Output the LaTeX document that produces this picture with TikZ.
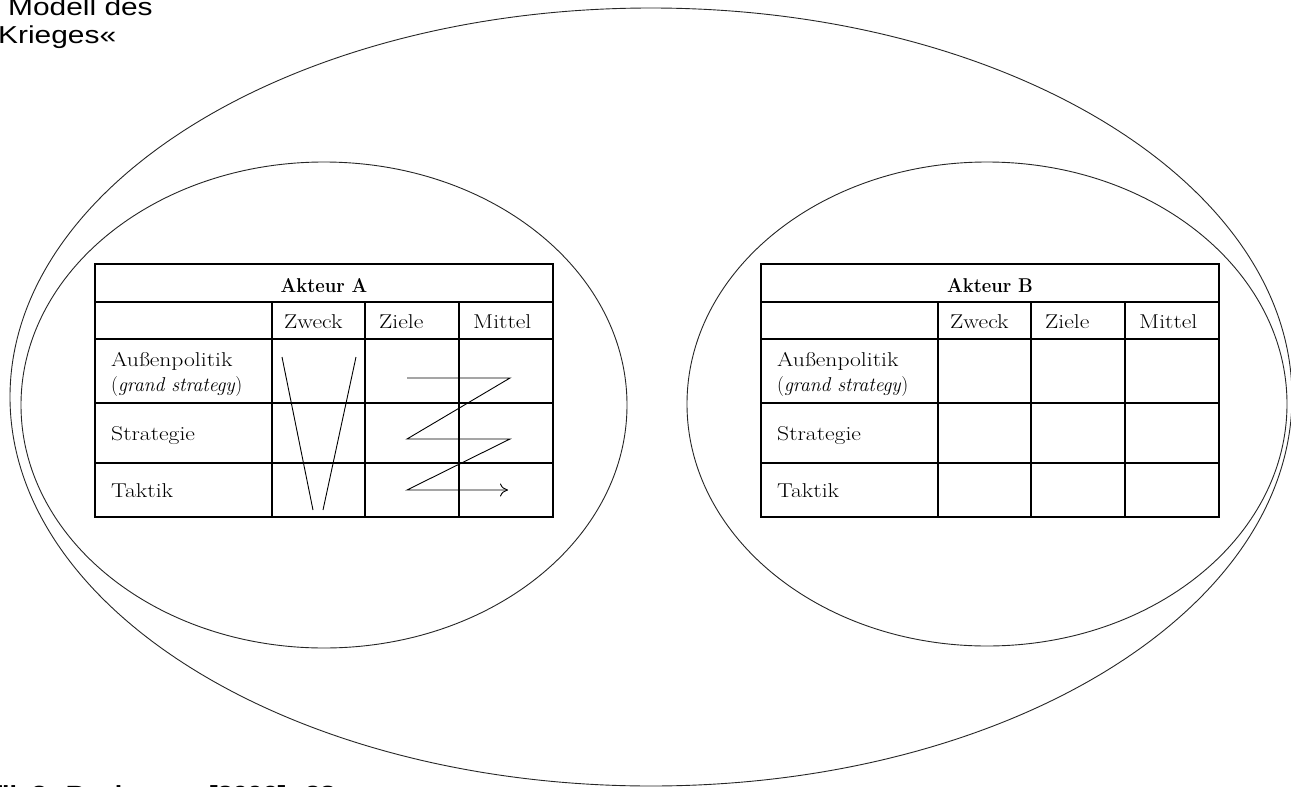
\documentclass[tikz,border=0pt]{standalone}
\usepackage{fontspec}
\usepackage{graphicx}
\newfontfamily\capsans{Liberation Sans}
\usetikzlibrary{arrows.meta}
\newcommand\sx[1]{\scalebox{1.18}[1]{#1}}
\newcommand\sxi[1]{\scalebox{0.98}[1]{#1}}
\newcommand\sxb[1]{\scalebox{0.92}[1]{#1}}
\newcommand\sy[1]{\scalebox{1.22}[1]{#1}}
\tikzset{
  tbl/.style={line width=1.2pt, draw=black},
  ring/.style={line width=0.9pt, draw=black!85},
  cell/.style={inner sep=0pt, anchor=base west, font=\fontsize{20}{25}\selectfont},
  hdr/.style={inner sep=0pt, anchor=base, font=\fontsize{20}{25}\selectfont\bfseries},
  flow/.style={line width=0.9pt, draw=black},
  captxt/.style={inner sep=0pt, anchor=base west, font=\capsans\fontsize{24.5}{28}\selectfont}
}
\newcommand\akteurtable[3]{%
\begin{scope}[xshift=#1]
  \draw[tbl] (0,264) rectangle (458,517);
  \draw[tbl] (0,302) -- (458,302);
  \draw[tbl] (0,339) -- (458,339);
  \draw[tbl] (0,403) -- (458,403);
  \draw[tbl] (0,463) -- (458,463);
  \draw[tbl] (177,302) -- (177,517);
  \draw[tbl] (270,302) -- (270,517);
  \draw[tbl] (364,302) -- (364,517);
  \node[hdr] (#2title) at (229,292) {\sxb{#3}};
  \node[cell] (#2zweck) at (189,328) {\sx{Zweck}};
  \node[cell] (#2ziele) at (284,328) {\sx{Ziele}};
  \node[cell] (#2mittel) at (378,328) {\sx{Mittel}};
  \node[cell] (#2ap) at (16,366) {\sx{Außenpolitik}};
  \node[cell] (#2gs) at (16,391) {\sxi{(\textit{grand strategy})}};
  \node[cell] (#2str) at (16,440) {\sx{Strategie}};
  \node[cell] (#2tak) at (16,497) {\sx{Taktik}};
\end{scope}}
\begin{document}
\begin{tikzpicture}[x=1pt,y=-1pt]
  \useasboundingbox (0,0) rectangle (1291,787);
  \clip (0,0) rectangle (1291,787);
  \fill[white] (0,0) rectangle (1291,787);
  % ellipses
  \draw[ring] (651,397) ellipse [x radius=641pt, y radius=389pt];
  \draw[ring] (324,405) ellipse [x radius=303pt, y radius=243pt];
  \draw[ring] (987,404) ellipse [x radius=300pt, y radius=242pt];
  % tables
  \akteurtable{95pt}{a}{Akteur A}
  \akteurtable{761pt}{b}{Akteur B}
  % V lines and zigzag in table A
  \begin{scope}[xshift=95pt]
    \coordinate (v1) at (187,357);
    \coordinate (v2) at (218,510);
    \coordinate (v3) at (261,357);
    \coordinate (v4) at (228,510);
    \draw[flow] (v1) -- (v2);
    \draw[flow] (v3) -- (v4);
    \coordinate (z1) at (312,378);
    \coordinate (z2) at (415,378);
    \coordinate (z3) at (312,439);
    \coordinate (z4) at (415,439);
    \coordinate (z5) at (312,490);
    \coordinate (z6) at (413,490);
    \draw[flow, -{To[length=8pt,width=13pt]}] (z1) -- (z2) -- (z3) -- (z4) -- (z5) -- (z6);
  \end{scope}
  % clipped caption texts
  \node[captxt] (t1) at (8,15) {\sy{Modell des}};
  \node[captxt] (t2) at (-2,43) {\sy{Krieges«}};
  \node[captxt, font=\capsans\bfseries\fontsize{22}{26}\selectfont] (t3) at (-7,801) {\sy{fik 3: Beckmann [2006]: 28}};
\end{tikzpicture}
\end{document}
